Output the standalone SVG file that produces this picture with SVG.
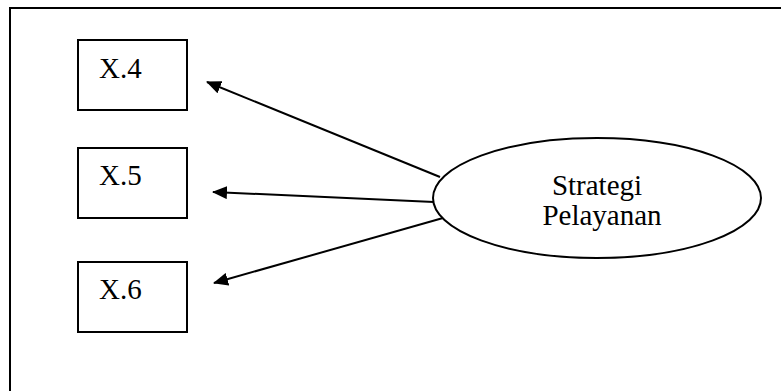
<svg xmlns="http://www.w3.org/2000/svg" width="781" height="391" viewBox="0 0 781 391">
  <style>
    .frame { stroke: #000; stroke-width: 2; fill: none; }
    .box { fill: #fff; stroke: #000; stroke-width: 2; }
    .oval { fill: #fff; stroke: #000; stroke-width: 2; }
    .lbl { font-family: "Liberation Serif", "Times New Roman", serif; font-size: 29px; fill: #000; }
    .link { stroke: #000; stroke-width: 2; fill: none; marker-end: url(#head); }
  </style>
  <defs>
    <marker id="head" viewBox="0 0 15 13" refX="14" refY="6.5" markerWidth="15" markerHeight="13" markerUnits="userSpaceOnUse" orient="auto">
      <path d="M0,0 L15,6.5 L0,13 Z" fill="#000"/>
    </marker>
  </defs>
  <rect width="781" height="391" fill="#fff"/>
  <!-- outer frame (top and left edges) -->
  <path class="frame" d="M10,391 L10,8 L781,8"/>

  <g id="x4">
    <rect class="box" x="78" y="40" width="109" height="70"/>
    <text class="lbl" x="99" y="78">X.4</text>
  </g>
  <g id="x5">
    <rect class="box" x="78" y="148" width="109" height="70"/>
    <text class="lbl" x="99" y="185">X.5</text>
  </g>
  <g id="x6">
    <rect class="box" x="78" y="262" width="109" height="70"/>
    <text class="lbl" x="99" y="299">X.6</text>
  </g>
  <g id="strategi">
    <ellipse class="oval" cx="597" cy="198" rx="164" ry="60"/>
    <text class="lbl" x="597" y="195" text-anchor="middle">Strategi</text>
    <text class="lbl" x="602" y="225" text-anchor="middle">Pelayanan</text>
  </g>

  <g id="connectors">
    <line class="link" x1="440" y1="177" x2="207" y2="82"/>
    <line class="link" x1="434" y1="202" x2="213" y2="192"/>
    <line class="link" x1="443" y1="218" x2="214" y2="283"/>
  </g>
</svg>
